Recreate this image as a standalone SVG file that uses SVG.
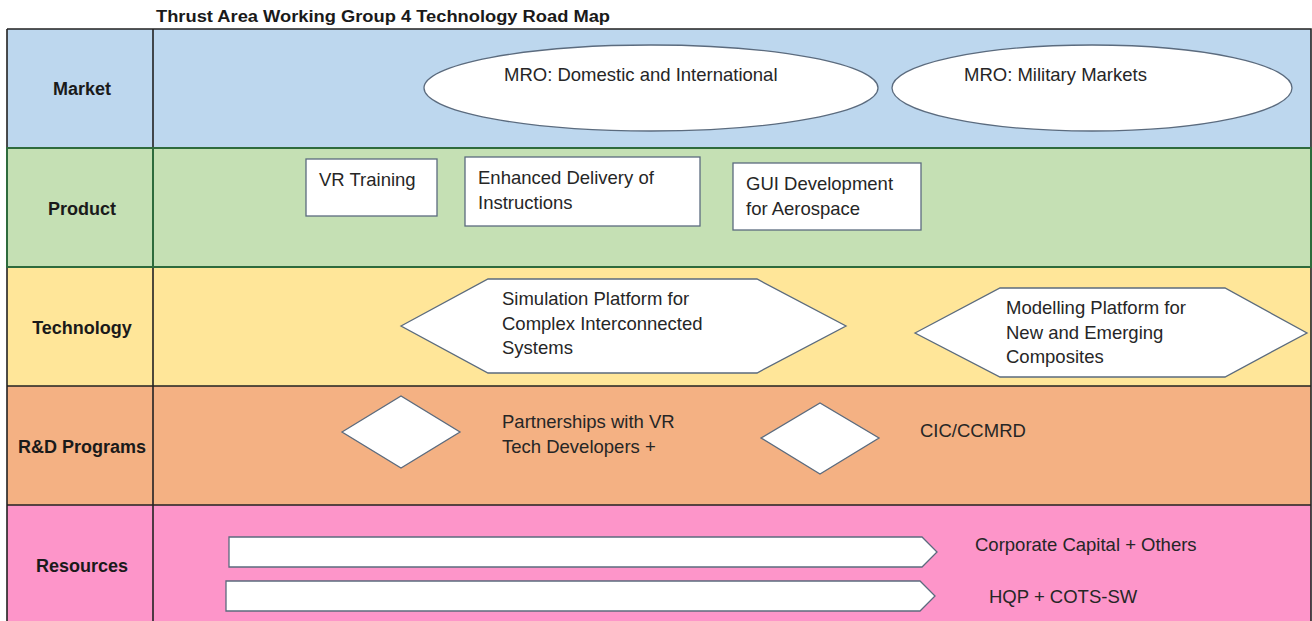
<svg xmlns="http://www.w3.org/2000/svg" width="1312" height="621" viewBox="0 0 1312 621">
<style>
.t{font-family:"Liberation Sans",Arial,sans-serif;font-size:18.5px;fill:#262626}
.lbl{font-family:"Liberation Sans",Arial,sans-serif;font-size:18px;font-weight:bold;fill:#1a1a1a;text-anchor:middle}
.ttl{font-family:"Liberation Sans",Arial,sans-serif;font-size:16px;font-weight:bold;fill:#1a1a1a}
.shape{fill:#ffffff;stroke:#5b6b7e;stroke-width:1.3}
.grid{fill:none;stroke:#222;stroke-width:1.6}
</style>
<rect width="1312" height="621" fill="#ffffff"/>
<text class="ttl" x="156" y="22" textLength="454" lengthAdjust="spacingAndGlyphs">Thrust Area Working Group 4 Technology Road Map</text>

<g id="rows">
  <rect x="7" y="29" width="1304" height="119" fill="#bdd7ee"/>
  <rect x="7" y="148" width="1304" height="119" fill="#c5e0b4"/>
  <rect x="7" y="267" width="1304" height="119" fill="#ffe699"/>
  <rect x="7" y="386" width="1304" height="119" fill="#f4b183"/>
  <rect x="7" y="505" width="1304" height="120" fill="#fd95c9"/>
  <path class="grid" d="M7 29H1311V630M7 29V630M153 29V630M7 386H1311M7 505H1311"/>
  <rect x="7" y="148" width="1304" height="119" fill="none" stroke="#2e6b3c" stroke-width="2"/>
  <line x1="153" y1="148" x2="153" y2="267" stroke="#2e6b3c" stroke-width="2"/>
</g>

<g id="label-market"><text class="lbl" x="82" y="95">Market</text></g>
<g id="label-product"><text class="lbl" x="82" y="215">Product</text></g>
<g id="label-technology"><text class="lbl" x="82" y="334">Technology</text></g>
<g id="label-rd"><text class="lbl" x="82" y="453">R&amp;D Programs</text></g>
<g id="label-resources"><text class="lbl" x="82" y="572">Resources</text></g>

<g id="mro-domestic">
  <ellipse class="shape" cx="651" cy="88" rx="227" ry="43"/>
  <text class="t" x="504" y="81">MRO: Domestic and International</text>
</g>
<g id="mro-military">
  <ellipse class="shape" cx="1092" cy="88" rx="200" ry="43"/>
  <text class="t" x="964" y="81">MRO: Military Markets</text>
</g>

<g id="vr-training">
  <rect class="shape" x="306" y="159" width="131" height="57"/>
  <text class="t" x="319" y="186">VR Training</text>
</g>
<g id="enhanced-delivery">
  <rect class="shape" x="465" y="157" width="235" height="69"/>
  <text class="t" x="478" y="184">Enhanced Delivery of</text>
  <text class="t" x="478" y="209">Instructions</text>
</g>
<g id="gui-development">
  <rect class="shape" x="733" y="163" width="188" height="67"/>
  <text class="t" x="746" y="190">GUI Development</text>
  <text class="t" x="746" y="215">for Aerospace</text>
</g>

<g id="simulation-platform">
  <polygon class="shape" points="401,326 488,279 757,279 846,326 757,373 488,373"/>
  <text class="t" x="502" y="305">Simulation Platform for</text>
  <text class="t" x="502" y="330">Complex Interconnected</text>
  <text class="t" x="502" y="354">Systems</text>
</g>
<g id="modelling-platform">
  <polygon class="shape" points="915,333 1000,288 1225,288 1307,333 1225,377 1000,377"/>
  <text class="t" x="1006" y="314">Modelling Platform for</text>
  <text class="t" x="1006" y="339">New and Emerging</text>
  <text class="t" x="1006" y="363">Composites</text>
</g>

<g id="partnerships">
  <polygon class="shape" points="342,432 401,396 460,432 401,468"/>
  <text class="t" x="502" y="428">Partnerships with VR</text>
  <text class="t" x="502" y="453">Tech Developers +</text>
</g>
<g id="cic-ccmrd">
  <polygon class="shape" points="761,438 820,403 879,438 820,474"/>
  <text class="t" x="920" y="437">CIC/CCMRD</text>
</g>

<g id="corporate-capital">
  <polygon class="shape" points="229,537 922,537 937,552 922,567 229,567"/>
  <text class="t" x="975" y="551">Corporate Capital + Others</text>
</g>
<g id="hqp-cots">
  <polygon class="shape" points="226,581 920,581 935,596 920,611 226,611"/>
  <text class="t" x="989" y="603">HQP + COTS-SW</text>
</g>
</svg>
